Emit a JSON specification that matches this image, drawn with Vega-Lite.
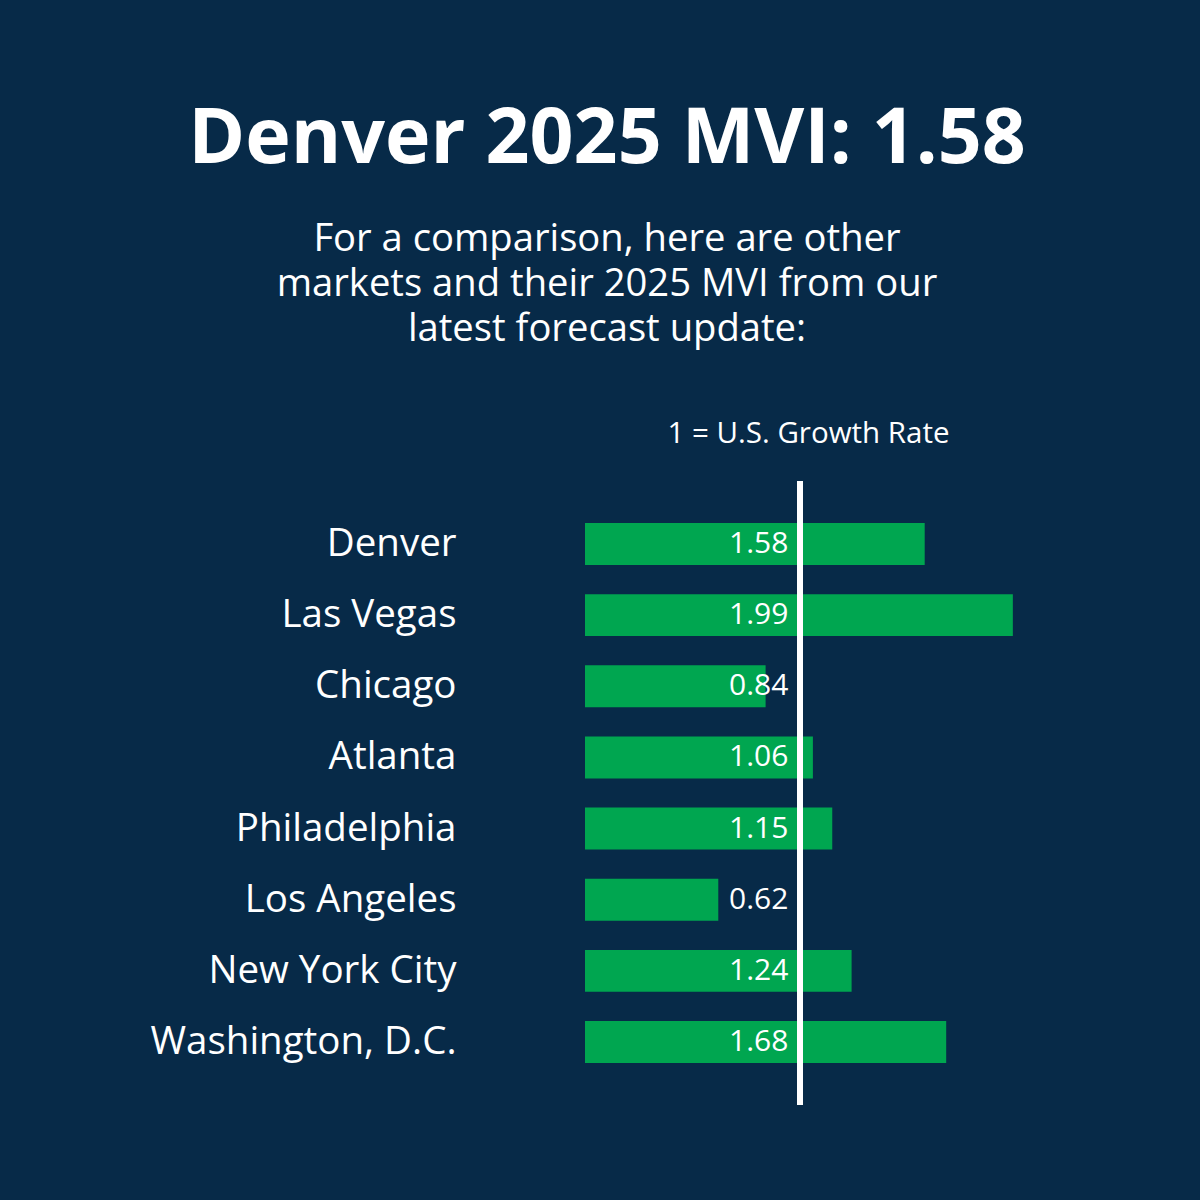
{
  "$schema": "https://vega.github.io/schema/vega-lite/v6.json",
  "autosize": {"type": "none"},
  "padding": {"left": 585, "top": 481, "right": 185, "bottom": 95},
  "width": 430,
  "height": 624,
  "background": "#072a48",
  "config": {"view": {"stroke": null}, "font": "Open Sans"},
  "title": {
    "text": "Denver 2025 MVI: 1.58",
    "subtitle": ["For a comparison, here are other", "markets and their 2025 MVI from our", "latest forecast update:"],
    "anchor": "middle",
    "frame": "group",
    "dx": -193,
    "offset": 69,
    "font": "Open Sans",
    "fontSize": 77,
    "fontWeight": "bold",
    "color": "white",
    "subtitleFont": "Open Sans",
    "subtitleFontSize": 38.2,
    "subtitleLineHeight": 45,
    "subtitleColor": "white",
    "subtitlePadding": 42
  },
  "data": {
    "values": [
      {"city": "Denver", "mvi": 1.58},
      {"city": "Las Vegas", "mvi": 1.99},
      {"city": "Chicago", "mvi": 0.84},
      {"city": "Atlanta", "mvi": 1.06},
      {"city": "Philadelphia", "mvi": 1.15},
      {"city": "Los Angeles", "mvi": 0.62},
      {"city": "New York City", "mvi": 1.24},
      {"city": "Washington, D.C.", "mvi": 1.68}
    ]
  },
  "layer": [
    {
      "mark": {"type": "bar", "color": "#00a650"},
      "encoding": {
        "y": {
          "field": "city",
          "type": "nominal",
          "sort": null,
          "scale": {"paddingInner": 0.41, "paddingOuter": 0.59},
          "axis": {
            "title": null,
            "domain": false,
            "ticks": false,
            "labelFont": "Open Sans",
            "labelFontSize": 38.5,
            "labelColor": "white",
            "labelPadding": 129,
            "labelLimit": 600
          }
        },
        "x": {
          "field": "mvi",
          "type": "quantitative",
          "scale": {"domain": [0, 2], "nice": false},
          "axis": {
            "orient": "top",
            "labels": false,
            "ticks": false,
            "domain": false,
            "grid": false,
            "title": "1 = U.S. Growth Rate",
            "titleFont": "Open Sans",
            "titleFontSize": 29.5,
            "titleFontWeight": "normal",
            "titleColor": "white",
            "titlePadding": 33,
            "titleX": 223
          }
        }
      }
    },
    {
      "mark": {"type": "text", "align": "right", "baseline": "middle", "color": "white", "font": "Open Sans", "fontSize": 30},
      "encoding": {
        "y": {"field": "city", "type": "nominal", "sort": null},
        "x": {"datum": 0.946, "type": "quantitative"},
        "text": {"field": "mvi", "type": "quantitative", "format": ".2f"}
      }
    },
    {
      "mark": {"type": "rule", "color": "white", "strokeWidth": 6},
      "encoding": {
        "x": {"datum": 1, "type": "quantitative"}
      }
    }
  ]
}
